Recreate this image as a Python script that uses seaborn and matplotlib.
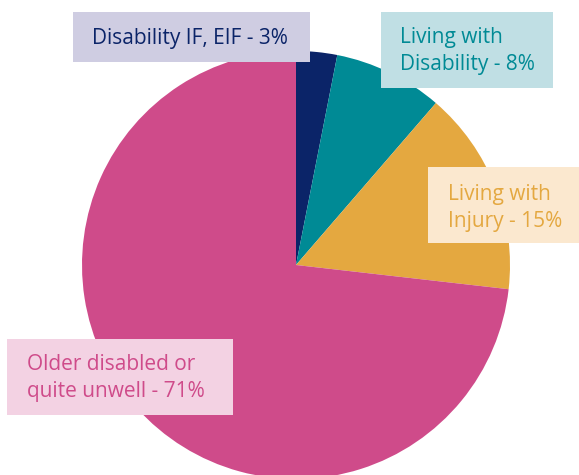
import matplotlib
matplotlib.use("Agg")
import matplotlib.pyplot as plt
import seaborn as sns
from matplotlib.patches import Rectangle

# --- data ---
categories = ["Disability IF, EIF", "Living with\nDisability", "Living with\nInjury",
              "Older disabled or\nquite unwell"]
shares = [3, 8, 15, 71]
slice_colors = ["#0b2468", "#008a95", "#e4a840", "#cf4b8a"]
box_colors = ["#cfcde2", "#c0dfe4", "#fbe8cf", "#f3d2e3"]

sns.set_theme(style="white")
plt.rcParams["font.family"] = ["Open Sans", "DejaVu Sans"]

W, H = 579, 475
fig = plt.figure(figsize=(W / 100, H / 100), dpi=100)
ax = fig.add_axes([0, 0, 1, 1])

def py(y):
    # pixel row (from top) -> axis y
    return H - y

ax.pie(shares, colors=slice_colors, startangle=90, counterclock=False,
       center=(296, py(265)), radius=214, frame=True,
       wedgeprops=dict(linewidth=0))
ax.set_xlim(0, W)
ax.set_ylim(0, H)
ax.set_aspect("equal")
ax.axis("off")

# label boxes: (left, top, right, bottom) in pixels, text left, first baseline
boxes = [(73, 12, 310, 62), (381, 12, 553, 88), (428, 167, 585, 243), (7, 339, 233, 415)]
text_pos = [(92, 44), (400, 43), (448, 200), (27, 370)]
line_gap = 27

for i, (cat, val) in enumerate(zip(categories, shares)):
    l, t, r, b = boxes[i]
    ax.add_patch(Rectangle((l, py(b)), r - l, b - t, facecolor=box_colors[i],
                           edgecolor="none", zorder=3, clip_on=False))
    lines = f"{cat} - {val}%".split("\n")
    tx, ty = text_pos[i]
    for j, line in enumerate(lines):
        ax.text(tx, py(ty + j * line_gap), line, color=slice_colors[i],
                fontsize=15, ha="left", va="baseline", zorder=4)

fig.savefig("out.png", dpi=100)
